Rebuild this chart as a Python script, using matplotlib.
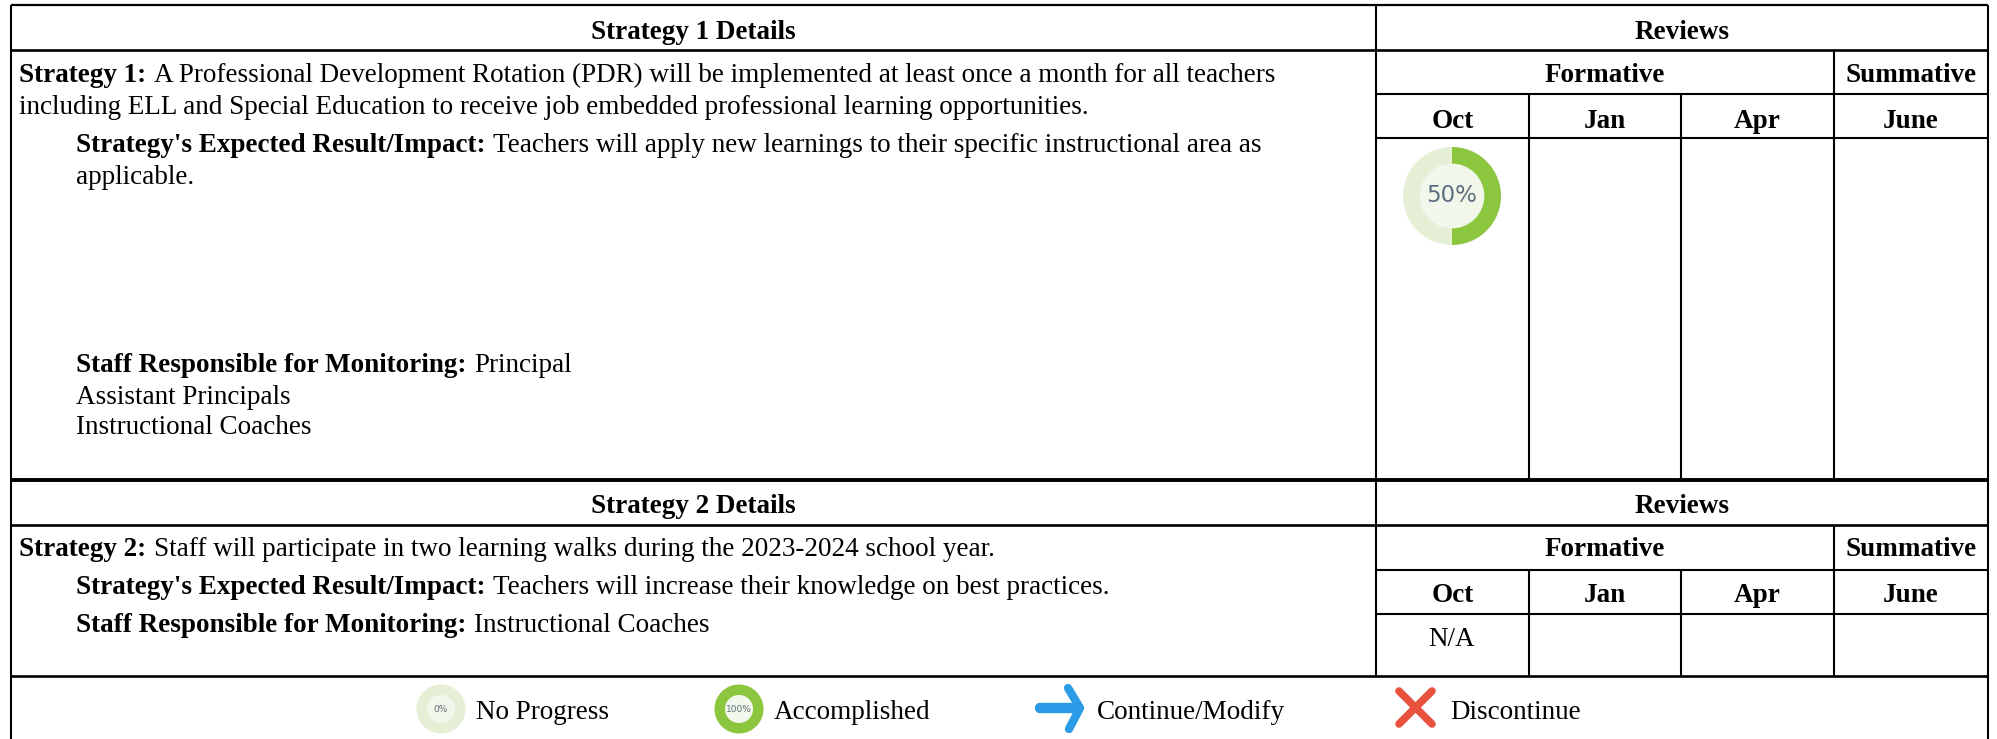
import matplotlib
matplotlib.use("Agg")
import matplotlib.pyplot as plt
from matplotlib.patches import Circle

W, H = 1997, 739
FONT = "Liberation Serif"
FS = 19.5

# ---- content ----
detail_headers = ["Strategy 1 Details", "Strategy 2 Details"]
review_header = "Reviews"
group_labels = ["Formative", "Summative"]
months = ["Oct", "Jan", "Apr", "June"]
strategy_rows = [
    ("Strategy 1:", " A Professional Development Rotation (PDR) will be implemented at least once a month for all teachers"),
    ("", "including ELL and Special Education to receive job embedded professional learning opportunities."),
    ("Strategy's Expected Result/Impact:", " Teachers will apply new learnings to their specific instructional area as"),
    ("", "applicable."),
    ("Staff Responsible for Monitoring:", " Principal"),
    ("", "Assistant Principals"),
    ("", "Instructional Coaches"),
    ("Strategy 2:", " Staff will participate in two learning walks during the 2023-2024 school year."),
    ("Strategy's Expected Result/Impact:", " Teachers will increase their knowledge on best practices."),
    ("Staff Responsible for Monitoring:", " Instructional Coaches"),
]
na_label = "N/A"
oct_progress = 50
legend_labels = ["No Progress", "Accomplished", "Continue/Modify", "Discontinue"]
legend_progress = [0, 100]

# ---- layout (pixels) ----
row_x = [19, 19, 76, 76, 76, 76, 76, 19, 76, 76]
row_base = [82.5, 114.5, 151.5, 183.5, 371.5, 403.5, 434.5, 555.5, 593.5, 631.5]
LEFT, MAIN, RIGHT = 11, 1376, 1988
COLS = [1529, 1681, 1834]

fig = plt.figure(figsize=(W / 100, H / 100), dpi=100, facecolor="white")
ax = fig.add_axes([0, 0, 1, 1])
ax.set_xlim(0, W)
ax.set_ylim(H, 0)
ax.axis("off")


def hline(y, x0, x1, lw=1.5):
    ax.plot([x0, x1], [y, y], color="black", lw=lw, solid_capstyle="butt", zorder=3)


def vline(x, y0, y1, lw=1.5):
    ax.plot([x, x], [y0, y1], color="black", lw=lw, solid_capstyle="butt", zorder=3)


def ctext(x, y, s, bold=True, size=FS):
    ax.text(x, y, s, family=FONT, fontsize=size, fontweight="bold" if bold else "normal",
            ha="center", va="baseline", color="black")


def ring(cx, cy, d, pct, label, label_size, inner):
    l = (cx - d / 2) / W
    b = 1 - (cy + d / 2) / H
    a = fig.add_axes([l, b, d / W, d / H])
    a.pie([pct, 100 - pct], colors=["#8cc63f", "#e4efd6"], startangle=90, counterclock=False,
          radius=1, wedgeprops=dict(width=1 - inner, linewidth=0))
    a.add_patch(Circle((0, 0), inner + 0.01, color="#f1f7ea", lw=0))
    a.set_xlim(-1, 1)
    a.set_ylim(-1, 1)
    a.axis("off")
    a.text(0, 0, label, ha="center", va="center", fontsize=label_size, color="#5f6f7f",
           family="DejaVu Sans")


# ---- grid ----
for top, sep, mid1, mid2, bottom, lw_top in [(5, 50, 94, 138, 480, 1.6), (480, 525, 570, 614, 676, 2.8)]:
    hline(top, LEFT, RIGHT, lw_top)
    hline(sep, LEFT, RIGHT, 1.9)
    hline(mid1, MAIN, RIGHT)
    hline(mid2, MAIN, RIGHT)
    vline(COLS[2], sep, bottom)
    for c in COLS[:2]:
        vline(c, mid1, bottom)
hline(676, LEFT, RIGHT, 1.9)
vline(LEFT, 5, H)
vline(RIGHT, 5, H)
vline(MAIN, 5, 676)

# ---- headers ----
for hdr, y0 in zip(detail_headers, [0, 474]):
    ctext((LEFT + MAIN) / 2, y0 + 39, hdr)
    ctext((MAIN + RIGHT) / 2, y0 + 39, review_header)
    ctext((MAIN + COLS[2]) / 2, y0 + 82, group_labels[0])
    ctext((COLS[2] + RIGHT) / 2, y0 + 82, group_labels[1])
    edges = [MAIN] + COLS + [RIGHT]
    for i, m in enumerate(months):
        ctext((edges[i] + edges[i + 1]) / 2, y0 + 128, m)

# ---- body text ----
renderer = fig.canvas.get_renderer()
inv = ax.transData.inverted()
for (b, t), x, y in zip(strategy_rows, row_x, row_base):
    cur = x
    if b:
        tb = ax.text(x, y, b, family=FONT, fontsize=FS, fontweight="bold", va="baseline", ha="left")
        ext = tb.get_window_extent(renderer)
        cur = inv.transform((ext.x1, ext.y0))[0] + 8
        t = t.strip()
    ax.text(cur, y, t, family=FONT, fontsize=FS, va="baseline", ha="left")

ctext((MAIN + COLS[0]) / 2 - 1, 646, na_label, bold=False)

# ---- progress rings ----
ring(1452, 196, 98, oct_progress, f"{oct_progress}%", 16.5, 0.65)
ring(441, 709, 49, legend_progress[0], f"{legend_progress[0]}%", 6.5, 0.56)
ring(739, 709, 49, legend_progress[1], f"{legend_progress[1]}%", 6.5, 0.56)

# ---- legend ----
for x, s in zip([476, 774, 1097, 1450], legend_labels):
    ax.text(x, 719, s, family=FONT, fontsize=FS, va="baseline", ha="left")
blue = "#2a9be6"
ax.plot([1040, 1076], [708, 708], color=blue, lw=7.5, solid_capstyle="round", zorder=4)
ax.plot([1068, 1080, 1069], [688, 708, 729], color=blue, lw=6, solid_capstyle="round",
        solid_joinstyle="round", zorder=4)
red = "#e8523f"
ax.plot([1399, 1432], [691, 724], color=red, lw=5.5, solid_capstyle="round", zorder=4)
ax.plot([1399, 1432], [724, 691], color=red, lw=5.5, solid_capstyle="round", zorder=4)

fig.savefig("out.png", dpi=100, facecolor="white")
